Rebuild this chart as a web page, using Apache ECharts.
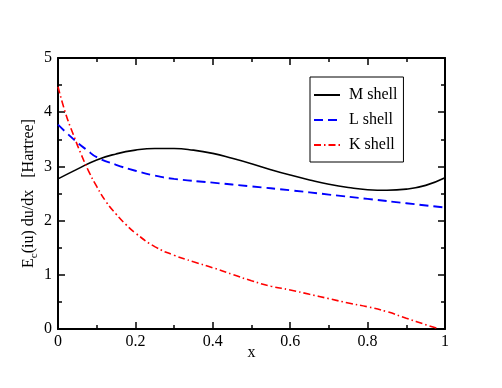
<!DOCTYPE html>
<html>
<head>
<meta charset="utf-8">
<script src="https://cdn.jsdelivr.net/npm/echarts@6/dist/echarts.min.js"></script>
<style>
  html, body { margin: 0; padding: 0; background: #fff; }
  #chart { width: 502px; height: 388px; }
</style>
</head>
<body>
<div id="chart"></div>
<script>
// values
var mX = [0, 0.05, 0.1, 0.15, 0.2, 0.25, 0.3, 0.35, 0.4, 0.45, 0.5, 0.55, 0.6, 0.65, 0.7, 0.75, 0.8, 0.85, 0.9, 0.95, 1.0];
var mShell = [2.77, 2.95, 3.12, 3.23, 3.30, 3.33, 3.33, 3.30, 3.24, 3.15, 3.05, 2.94, 2.84, 2.75, 2.67, 2.61, 2.57, 2.56, 2.58, 2.65, 2.79];

var lX = [0, 0.025, 0.05, 0.075, 0.1, 0.15, 0.2, 0.25, 0.3, 0.4, 0.5, 0.6, 0.7, 0.8, 0.9, 1.0];
var lShell = [3.77, 3.60, 3.44, 3.30, 3.17, 3.03, 2.92, 2.83, 2.77, 2.70, 2.63, 2.56, 2.48, 2.40, 2.32, 2.24];

var kX = [0, 0.02, 0.04, 0.06, 0.08, 0.1, 0.125, 0.15, 0.175, 0.2, 0.25, 0.3, 0.35, 0.4, 0.45, 0.5, 0.55, 0.6, 0.65, 0.7, 0.75, 0.8, 0.85, 0.9, 0.95, 0.985];
var kShell = [4.47, 3.97, 3.58, 3.22, 2.90, 2.63, 2.34, 2.12, 1.93, 1.77, 1.52, 1.36, 1.24, 1.13, 1.01, 0.89, 0.79, 0.72, 0.64, 0.56, 0.48, 0.41, 0.32, 0.20, 0.08, 0.0];

var xTicks = ['0', '0.2', '0.4', '0.6', '0.8', '1'];

function pairs(xs, ys) {
  return xs.map(function (x, i) { return [x, ys[i]]; });
}

var font = 'Liberation Serif';
var tickStyle = { show: true, inside: true, length: 7, lineStyle: { color: '#000', width: 1.5 } };
var minorStyle = { show: true, splitNumber: 2, length: 4, lineStyle: { color: '#000', width: 1.5 } };
var lineAx = { show: true, onZero: false, lineStyle: { color: '#000', width: 2 } };

var myChart = echarts.init(document.getElementById('chart'));
myChart.setOption({
  animation: false,
  backgroundColor: '#fff',
  grid: { left: 58, right: 57, top: 58, bottom: 59 },
  xAxis: [
    {
      type: 'value', min: 0, max: 1, interval: 0.2,
      axisLine: lineAx, axisTick: tickStyle, minorTick: minorStyle,
      splitLine: { show: false },
      axisLabel: {
        color: '#000', fontFamily: font, fontSize: 16, margin: 5,
        formatter: function (v) { return xTicks[Math.round(v * 5)]; }
      },
      name: 'x', nameLocation: 'middle', nameGap: 16, nameMoveOverlap: false,
      nameTextStyle: { color: '#000', fontFamily: font, fontSize: 16 }
    },
    {
      type: 'value', position: 'top', min: 0, max: 1, interval: 0.2,
      axisLine: lineAx, axisTick: tickStyle, minorTick: minorStyle,
      splitLine: { show: false }, axisLabel: { show: false }
    }
  ],
  yAxis: [
    {
      type: 'value', min: 0, max: 5, interval: 1,
      axisLine: lineAx, axisTick: tickStyle, minorTick: minorStyle,
      splitLine: { show: false },
      axisLabel: { color: '#000', fontFamily: font, fontSize: 16, margin: 6 },
      name: '{a|E}{s|c}{a|(iu) du/dx   [Hartree]}',
      nameLocation: 'middle', nameGap: 19, nameMoveOverlap: false,
      nameTextStyle: {
        color: '#000', fontFamily: font, fontSize: 16,
        rich: {
          a: { fontFamily: font, fontSize: 16, color: '#000', lineHeight: 20 },
          s: { fontFamily: font, fontSize: 11, color: '#000', lineHeight: 20, padding: [10, 0, 0, 0] }
        }
      }
    },
    {
      type: 'value', position: 'right', min: 0, max: 5, interval: 1,
      axisLine: lineAx, axisTick: tickStyle, minorTick: minorStyle,
      splitLine: { show: false }, axisLabel: { show: false }
    }
  ],
  legend: {
    orient: 'vertical', left: 310, top: 77,
    backgroundColor: '#fff', borderColor: '#000', borderWidth: 1,
    padding: [10, 6, 9, 3], itemGap: 9, itemWidth: 26, itemHeight: 14,
    itemStyle: { opacity: 0 },
    textStyle: { color: '#000', fontFamily: font, fontSize: 16, padding: [0, 0, 0, 4] },
    data: ['M shell', 'L shell', 'K shell']
  },
  series: [
    {
      name: 'M shell', type: 'line', data: pairs(mX, mShell), smooth: true,
      symbol: 'none', lineStyle: { color: '#000', width: 1.6 }, itemStyle: { color: '#000' }
    },
    {
      name: 'L shell', type: 'line', data: pairs(lX, lShell), smooth: true,
      symbol: 'none', lineStyle: { color: '#0000ff', width: 1.9, type: [9, 5] }, itemStyle: { color: '#0000ff' }
    },
    {
      name: 'K shell', type: 'line', data: pairs(kX, kShell), smooth: true,
      symbol: 'none', lineStyle: { color: '#ff0000', width: 1.6, type: [7, 3, 1.5, 3] }, itemStyle: { color: '#ff0000' }
    }
  ]
});
</script>
</body>
</html>
